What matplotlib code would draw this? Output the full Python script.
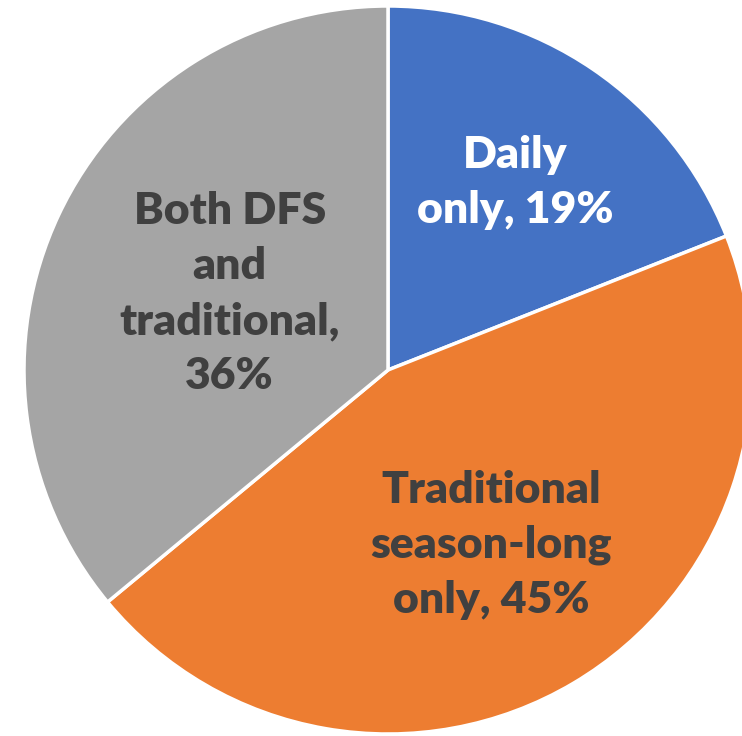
import matplotlib
matplotlib.use("Agg")
import matplotlib.pyplot as plt

labels = ["Daily\nonly, 19%", "Traditional\nseason-long\nonly, 45%", "Both DFS\nand\ntraditional,\n36%"]
values = [19, 45, 36]
colors = ["#4472C4", "#ED7D31", "#A5A5A5"]
text_colors = ["white", "#404040", "#404040"]
label_pos = [(0.35, 0.515), (0.284, -0.48), (-0.435, 0.21)]

W, H = 742, 736
cx, cy, R = 388, 370, 364
fig = plt.figure(figsize=(W / 100, H / 100), dpi=100)
ax = fig.add_axes([0, 0, 1, 1])
wedges, _ = ax.pie(values, colors=colors, startangle=90, counterclock=False,
                   wedgeprops=dict(edgecolor="white", linewidth=2.5))
ax.set_aspect("auto")
ax.set_xlim(-cx / R, (W - cx) / R)
ax.set_ylim(-(H - cy) / R, cy / R)
ax.axis("off")
for lab, (x, y), tc in zip(labels, label_pos, text_colors):
    ax.text(x, y, lab, ha="center", va="center", color=tc, fontsize=32,
            fontweight="heavy", family=["Lato", "DejaVu Sans"], linespacing=1.45)
fig.savefig("out.png", dpi=100, facecolor="white")
